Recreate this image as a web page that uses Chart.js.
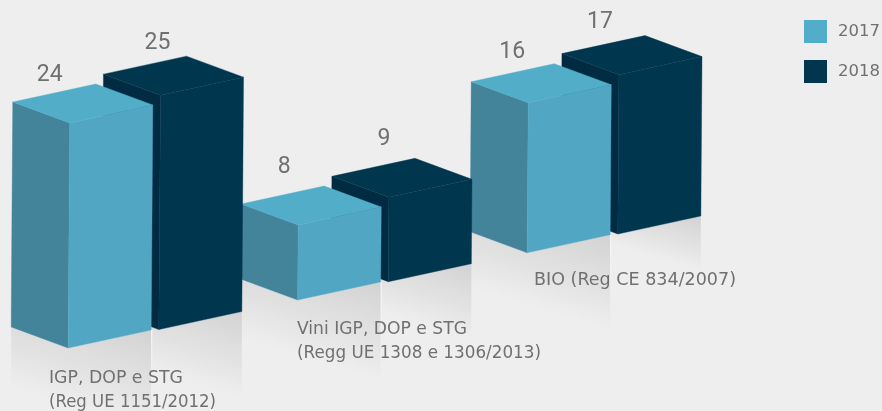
<!DOCTYPE html>
<html><head><meta charset="utf-8">
<style>html,body{margin:0;padding:0;background:#eeeeee}canvas{display:block}</style>
<script src="https://cdn.jsdelivr.net/npm/chart.js@4"></script>
</head><body><canvas id="c" width="882" height="411"></canvas>
<script>
const categories = [
  ["IGP, DOP e STG","(Reg UE 1151/2012)"],
  ["Vini IGP, DOP e STG","(Regg UE 1308 e 1306/2013)"],
  ["BIO (Reg CE 834/2007)"]
];
const seriesNames = ["2017","2018"];
const values2017 = [24,8,16];
const values2018 = [25,9,17];
// stepped floor each bar stands on, in chart units
const floor2017 = [0,5.12,10.16];
const floor2018 = [1.97,7.07,12.16];
// manual label placement
const valueOffsets2017 = [[-20,-48],[-14,-58],[-16,-51]];
const valueOffsets2018 = [[-3,-52],[-5,-58],[-19,-52]];
const categoryAnchors = [[49,383],[297,334],[534,285]];
const categoryWidths = [[134,167],[170,244],[202]];
const glowLength2017 = [100,98,95];
const glowLength2018 = [86,76,55];

const TEXT = "#707070", FONT = '"DejaVu Sans"', NUMFONT = 'Roboto';
const skin = [
  {front:"#51a7c3",left:"#43849b",top:"#52adc9",swatch:"#52adca"},
  {front:"#00364e",left:"#002b42",top:"#00374f",swatch:"#01364e"}
];
function poly(ctx,pts,color){
  ctx.beginPath();pts.forEach((p,i)=>i?ctx.lineTo(p[0],p[1]):ctx.moveTo(p[0],p[1]));ctx.closePath();
  ctx.fillStyle=color;ctx.fill();ctx.strokeStyle=color;ctx.lineWidth=.4;ctx.stroke();
}
function band(ctx,g,xStart,len,bottom){
  const t=(xStart-g.L[0])/(g.F[0]-g.L[0]);
  const startY=g.L[1]+t*(g.F[1]-g.L[1]);
  const k=.3, s=len/(1+k*k);
  const grad=ctx.createLinearGradient(g.R[0],g.R[1],g.R[0]-k*s,g.R[1]+s);
  grad.addColorStop(0,"rgba(0,0,0,.115)");grad.addColorStop(1,"rgba(0,0,0,0)");
  ctx.beginPath();ctx.moveTo(xStart,startY);ctx.lineTo(g.F[0],g.F[1]);ctx.lineTo(g.R[0],g.R[1]);
  ctx.lineTo(g.R[0],bottom);ctx.lineTo(xStart,bottom);ctx.closePath();
  ctx.fillStyle=grad;ctx.fill();
}
function seam(ctx,x,y){
  const w=ctx.createLinearGradient(0,y,0,y+75);
  w.addColorStop(0,"rgba(255,255,255,.8)");w.addColorStop(1,"rgba(255,255,255,0)");
  ctx.fillStyle=w;ctx.fillRect(x,y,1,75);
}
function geometry(chart,ds,i){
  const y=chart.scales.y, el=chart.getDatasetMeta(ds).data[i];
  const floors=ds?floor2018:floor2017;
  const shift=y.getPixelForValue(floors[i])-y.getPixelForValue(0);
  const w=el.width, bx=el.x-w/2, by=el.base+shift, h=el.base-el.y;
  const dx=w*57/140, rx=w*83/140, dy=w*21/140, ry=w*18/140, lean=h/140;
  const F=[bx+dx,by], L=[bx,by-dy], R=[bx+w,by-ry];
  const up=p=>[p[0]+lean,p[1]-h];
  return {F,L,R,tF:up(F),tL:up(L),tR:up(R),tB:[L[0]+rx+lean,L[1]-ry-h]};
}
const prismPlugin={
  id:"prisms",
  beforeDatasetsDraw(chart){
    const ctx=chart.ctx, n=categories.length, bottom=chart.height;
    for(let i=0;i<n;i++){
      const a=geometry(chart,0,i), b=geometry(chart,1,i);
      const xA=i?geometry(chart,1,i-1).R[0]:a.L[0];
      band(ctx,a,xA,glowLength2017[i],bottom);
      band(ctx,b,a.R[0],glowLength2018[i],bottom);
      seam(ctx,a.R[0],a.R[1]);
    }
    for(let i=n-1;i>=0;i--)for(let ds=1;ds>=0;ds--){
      const g=geometry(chart,ds,i),c=skin[ds];
      poly(ctx,[g.tL,g.tF,g.F,g.L],c.left);
      poly(ctx,[g.tF,g.tR,g.R,g.F],c.front);
      poly(ctx,[g.tL,g.tB,g.tR,g.tF],c.top);
    }
    ctx.textBaseline="middle";ctx.fillStyle=TEXT;
    ctx.font=`400 23px ${NUMFONT}`;ctx.textAlign="center";
    [values2017,values2018].forEach((vals,ds)=>vals.forEach((v,i)=>{
      const g=geometry(chart,ds,i),o=(ds?valueOffsets2018:valueOffsets2017)[i];
      ctx.fillText(String(v),g.tF[0]+o[0],g.tF[1]+o[1]);
    }));
    ctx.textAlign="left";ctx.textBaseline="alphabetic";ctx.font=`17.6px ${FONT}`;
    categories.forEach((lines,i)=>lines.forEach((t,k)=>{
      ctx.fillText(t,categoryAnchors[i][0],categoryAnchors[i][1]+k*24,categoryWidths[i][k]);
    }));
    seriesNames.forEach((t,k)=>{
      ctx.fillStyle=skin[k].swatch;ctx.fillRect(804,20+k*40,23,23);
      ctx.fillStyle=TEXT;ctx.font=`16.5px ${FONT}`;ctx.textBaseline="middle";
      ctx.fillText(t,838,32+k*40);
    });
    return false;
  }
};
new Chart(document.getElementById("c"),{
  type:"bar",
  data:{labels:categories,datasets:[
    {label:seriesNames[0],data:values2017,backgroundColor:skin[0].swatch,categoryPercentage:.79,barPercentage:1.545},
    {label:seriesNames[1],data:values2018,backgroundColor:skin[1].swatch,categoryPercentage:.79,barPercentage:1.545}
  ]},
  options:{
    responsive:false,animation:false,
    layout:{padding:{left:11.75,right:181.75,top:0,bottom:0}},
    plugins:{legend:{display:false},tooltip:{enabled:false}},
    scales:{x:{display:false},y:{display:false,min:-6.72,max:37.12}}
  },
  plugins:[prismPlugin]
});
</script></body></html>
